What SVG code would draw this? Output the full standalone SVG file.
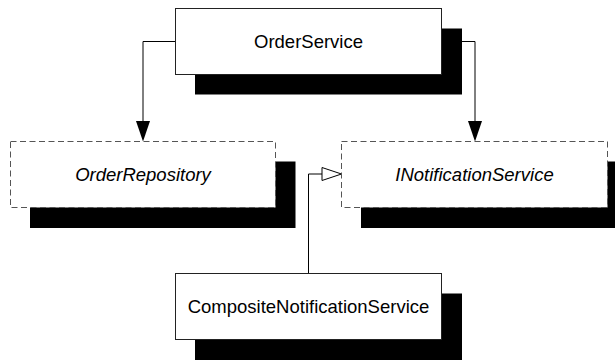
<svg xmlns="http://www.w3.org/2000/svg" width="615" height="361" viewBox="0 0 615 361">
<style>
.shadow{fill:#000}
.box{fill:#fff;stroke:#222;stroke-width:1}
.iface{fill:#fff;stroke:#555;stroke-width:1;stroke-dasharray:6,3.5}
.lbl{font-family:"Liberation Sans",Arial,sans-serif;font-size:18.5px;fill:#000;text-anchor:middle}
.it{font-style:italic}
.edge{fill:none;stroke:#000;stroke-width:1}
</style>
<rect width="615" height="361" fill="#fff"/>
<g id="connectors">
<path class="edge" d="M175.5,41.5 H143 V122"/>
<polygon points="136,121 150,121 143,141.5" fill="#000"/>
<path class="edge" d="M441.5,41.5 H475 V122"/>
<polygon points="468,121 482,121 475,141.5" fill="#000"/>
<path class="edge" d="M308.5,273.5 V174 H322"/>
<polygon points="322,167.5 322,180.5 341.5,174" fill="#fff" stroke="#000" stroke-width="1"/>
</g>
<g id="OrderService">
<rect class="shadow" x="195" y="28.5" width="267" height="66"/>
<rect class="box" x="175.5" y="8.5" width="266" height="66"/>
<text class="lbl" x="308.5" y="48">OrderService</text>
</g>
<g id="OrderRepository">
<rect class="shadow" x="30" y="161.5" width="265.5" height="66.5"/>
<rect class="iface" x="10.5" y="141.5" width="265" height="66"/>
<text class="lbl it" x="143" y="181">OrderRepository</text>
</g>
<g id="INotificationService">
<rect class="shadow" x="361" y="161.5" width="270" height="66.5"/>
<rect class="iface" x="341.5" y="141.5" width="266" height="66"/>
<text class="lbl it" x="474.5" y="181">INotificationService</text>
</g>
<g id="CompositeNotificationService">
<rect class="shadow" x="195" y="293.5" width="267" height="66.5"/>
<rect class="box" x="175.5" y="273.5" width="266" height="66"/>
<text class="lbl" x="308.5" y="313">CompositeNotificationService</text>
</g>
</svg>
